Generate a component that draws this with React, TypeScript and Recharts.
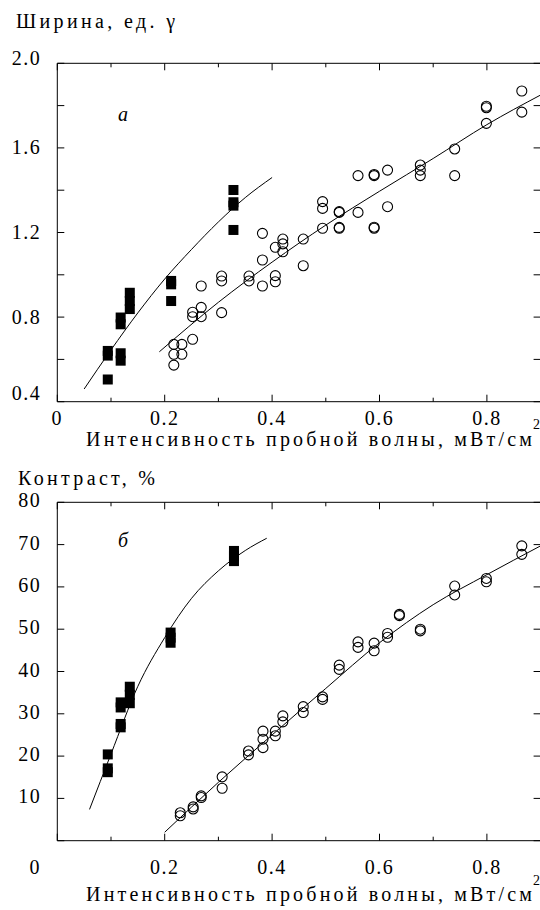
import React from 'react';
import { ScatterChart, Scatter, XAxis, YAxis } from 'recharts';

// shared x axis (intensity of the probe wave, mW/cm^2)
const xTicks = [0, 0.1, 0.2, 0.3, 0.4, 0.5, 0.6, 0.7, 0.8, 0.9];
const widthTicks = [0.4, 0.6, 0.8, 1.0, 1.2, 1.4, 1.6, 1.8, 2.0];
const contrastTicks = [0, 10, 20, 30, 40, 50, 60, 70, 80];

// panel "а": width, units of gamma
const widthSquares = [
  { x: 0.094, y: 0.505 }, { x: 0.094, y: 0.618 }, { x: 0.094, y: 0.64 },
  { x: 0.118, y: 0.594 }, { x: 0.118, y: 0.629 }, { x: 0.118, y: 0.766 }, { x: 0.118, y: 0.798 },
  { x: 0.135, y: 0.838 }, { x: 0.135, y: 0.876 }, { x: 0.135, y: 0.915 },
  { x: 0.212, y: 0.876 }, { x: 0.212, y: 0.955 }, { x: 0.212, y: 0.971 },
  { x: 0.328, y: 1.212 }, { x: 0.328, y: 1.327 }, { x: 0.328, y: 1.343 }, { x: 0.328, y: 1.401 },
];
const widthCircles = [
  { x: 0.217, y: 0.573 }, { x: 0.217, y: 0.624 }, { x: 0.217, y: 0.671 },
  { x: 0.232, y: 0.624 }, { x: 0.232, y: 0.671 },
  { x: 0.252, y: 0.695 }, { x: 0.252, y: 0.802 }, { x: 0.252, y: 0.823 },
  { x: 0.268, y: 0.802 }, { x: 0.268, y: 0.846 }, { x: 0.268, y: 0.947 },
  { x: 0.306, y: 0.821 }, { x: 0.306, y: 0.971 }, { x: 0.306, y: 0.994 },
  { x: 0.357, y: 0.971 }, { x: 0.357, y: 0.994 },
  { x: 0.382, y: 0.947 }, { x: 0.382, y: 1.07 }, { x: 0.382, y: 1.196 },
  { x: 0.406, y: 0.967 }, { x: 0.406, y: 0.996 }, { x: 0.406, y: 1.13 },
  { x: 0.42, y: 1.109 }, { x: 0.42, y: 1.146 }, { x: 0.42, y: 1.169 },
  { x: 0.458, y: 1.043 }, { x: 0.458, y: 1.169 },
  { x: 0.494, y: 1.22 }, { x: 0.494, y: 1.314 }, { x: 0.494, y: 1.346 },
  { x: 0.525, y: 1.22 }, { x: 0.525, y: 1.224 }, { x: 0.525, y: 1.295 }, { x: 0.525, y: 1.299 },
  { x: 0.56, y: 1.295 }, { x: 0.56, y: 1.469 },
  { x: 0.59, y: 1.22 }, { x: 0.59, y: 1.225 }, { x: 0.59, y: 1.469 }, { x: 0.59, y: 1.474 },
  { x: 0.615, y: 1.322 }, { x: 0.615, y: 1.495 },
  { x: 0.676, y: 1.469 }, { x: 0.676, y: 1.495 }, { x: 0.676, y: 1.519 },
  { x: 0.74, y: 1.469 }, { x: 0.74, y: 1.595 },
  { x: 0.799, y: 1.716 }, { x: 0.799, y: 1.79 }, { x: 0.799, y: 1.797 },
  { x: 0.865, y: 1.769 }, { x: 0.865, y: 1.869 },
];
const widthFitSquares = [
  { x: 0.05, y: 0.46 }, { x: 0.1, y: 0.645 }, { x: 0.15, y: 0.82 }, { x: 0.2, y: 0.98 },
  { x: 0.25, y: 1.12 }, { x: 0.3, y: 1.25 }, { x: 0.35, y: 1.365 }, { x: 0.4, y: 1.46 },
];
const widthFitCircles = [
  { x: 0.19, y: 0.636 }, { x: 0.3, y: 0.87 }, { x: 0.4, y: 1.06 }, { x: 0.5, y: 1.235 },
  { x: 0.6, y: 1.395 }, { x: 0.7, y: 1.55 }, { x: 0.8, y: 1.71 }, { x: 0.9, y: 1.85 },
];

// panel "б": contrast, %
const contrastSquares = [
  { x: 0.094, y: 16.2 }, { x: 0.094, y: 17.1 }, { x: 0.094, y: 20.4 },
  { x: 0.118, y: 26.8 }, { x: 0.118, y: 27.6 }, { x: 0.118, y: 31.5 }, { x: 0.118, y: 32.7 },
  { x: 0.135, y: 32.5 }, { x: 0.135, y: 34.5 }, { x: 0.135, y: 36.4 },
  { x: 0.211, y: 46.8 }, { x: 0.211, y: 48.0 }, { x: 0.211, y: 49.2 },
  { x: 0.329, y: 66.1 }, { x: 0.329, y: 67.3 }, { x: 0.329, y: 68.5 },
];
const contrastCircles = [
  { x: 0.229, y: 5.9 }, { x: 0.229, y: 6.6 },
  { x: 0.253, y: 7.5 }, { x: 0.253, y: 8.0 },
  { x: 0.268, y: 10.2 }, { x: 0.268, y: 10.6 },
  { x: 0.307, y: 12.4 }, { x: 0.307, y: 15.1 },
  { x: 0.356, y: 20.3 }, { x: 0.356, y: 21.2 },
  { x: 0.383, y: 22.0 }, { x: 0.383, y: 24.0 }, { x: 0.383, y: 25.9 },
  { x: 0.406, y: 24.8 }, { x: 0.406, y: 25.9 },
  { x: 0.42, y: 28.1 }, { x: 0.42, y: 29.5 },
  { x: 0.458, y: 30.3 }, { x: 0.458, y: 31.7 },
  { x: 0.494, y: 33.4 }, { x: 0.494, y: 34.0 },
  { x: 0.525, y: 40.5 }, { x: 0.525, y: 41.5 },
  { x: 0.56, y: 45.7 }, { x: 0.56, y: 47.0 },
  { x: 0.59, y: 44.9 }, { x: 0.59, y: 46.7 },
  { x: 0.615, y: 48.1 }, { x: 0.615, y: 49.0 },
  { x: 0.637, y: 53.2 }, { x: 0.637, y: 53.5 },
  { x: 0.676, y: 49.6 }, { x: 0.676, y: 50.0 },
  { x: 0.74, y: 58.1 }, { x: 0.74, y: 60.2 },
  { x: 0.799, y: 61.2 }, { x: 0.799, y: 62.0 },
  { x: 0.865, y: 67.7 }, { x: 0.865, y: 69.7 },
];
const contrastFitSquares = [
  { x: 0.06, y: 7.4 }, { x: 0.1, y: 20.5 }, { x: 0.15, y: 36.5 }, { x: 0.2, y: 48 },
  { x: 0.25, y: 57.3 }, { x: 0.3, y: 63.8 }, { x: 0.35, y: 68.6 }, { x: 0.39, y: 71.5 },
];
const contrastFitCircles = [
  { x: 0.2, y: 2 }, { x: 0.3, y: 13.8 }, { x: 0.4, y: 25.0 }, { x: 0.5, y: 36.0 },
  { x: 0.6, y: 46.8 }, { x: 0.7, y: 55.8 }, { x: 0.8, y: 62.9 }, { x: 0.9, y: 69.7 },
];

const FONT = 'Liberation Serif, DejaVu Serif, serif';
const numStyle = { fontSize: 20, letterSpacing: 1.5, fill: '#000' };

const Square = (p: any) => <rect x={p.cx - 5} y={p.cy - 5} width={10} height={10} fill="#000" />;
const Ring = (p: any) => <circle cx={p.cx} cy={p.cy} r={5} fill="none" stroke="#000" strokeWidth={1.1} />;
const NoDot = () => <g />;

const isMajorX = (v: number) => Math.round(v * 10) % 2 === 0;

// plot frame position inside each chart
const CHART_W = 560;
const PLOT_LEFT = 57.3;
const PLOT_RIGHT = 540.6;

const makeBottomTick = (axisY: number, zeroShift: number, labelDy: number) => (p: any) => {
  const v = p.payload.value;
  const major = isMajorX(v);
  return (
    <g>
      <line x1={p.x} x2={p.x} y1={axisY} y2={axisY - (major ? 7 : 4)} stroke="#000" />
      {major && (
        <text x={p.x + (v === 0 ? zeroShift : 0)} y={axisY + labelDy} textAnchor="middle" fontFamily={FONT} style={numStyle}>
          {v === 0 ? '0' : v.toFixed(1)}
        </text>
      )}
    </g>
  );
};

const makeTopTick = (axisY: number) => (p: any) => {
  const major = isMajorX(p.payload.value);
  return <line x1={p.x} x2={p.x} y1={axisY} y2={axisY + (major ? 7 : 4)} stroke="#000" />;
};

const makeLeftTick = (label: (v: number) => string | null, dy: (v: number) => number) => (p: any) => {
  const v = p.payload.value;
  const text = label(v);
  return (
    <g>
      <line x1={PLOT_LEFT} x2={PLOT_LEFT + 7} y1={p.y} y2={p.y} stroke="#000" />
      {text && (
        <text x={PLOT_LEFT - 16} y={p.y + 6.5 + dy(v)} textAnchor="end" fontFamily={FONT} style={numStyle}>
          {text}
        </text>
      )}
    </g>
  );
};

const RightTick = (p: any) => <line x1={PLOT_RIGHT} x2={PLOT_RIGHT - 7} y1={p.y} y2={p.y} stroke="#000" />;

interface PanelProps {
  top: number;
  height: number;
  plotTop: number;
  plotBottom: number;
  yDomain: [number, number];
  yTicks: number[];
  yLabel: (v: number) => string | null;
  yLabelDy: (v: number) => number;
  zeroShift: number;
  xLabelDy: number;
  squares: { x: number; y: number }[];
  circles: { x: number; y: number }[];
  fitSquares: { x: number; y: number }[];
  fitCircles: { x: number; y: number }[];
}

const Panel: React.FC<PanelProps> = (props) => {
  const axisSize = 1;
  return (
    <div style={{ position: 'absolute', left: 0, top: props.top }}>
      <ScatterChart
        width={CHART_W}
        height={props.height}
        margin={{
          top: props.plotTop - axisSize,
          left: PLOT_LEFT - axisSize,
          right: CHART_W - PLOT_RIGHT - axisSize,
          bottom: props.height - props.plotBottom - axisSize,
        }}
      >
        <XAxis
          type="number"
          dataKey="x"
          domain={[0, 0.9]}
          ticks={xTicks}
          interval={0}
          allowDataOverflow
          height={axisSize}
          tickLine={false}
          axisLine={{ stroke: '#000' }}
          tick={makeBottomTick(props.plotBottom, props.zeroShift, props.xLabelDy)}
        />
        <XAxis
          xAxisId="top"
          orientation="top"
          type="number"
          dataKey="x"
          domain={[0, 0.9]}
          ticks={xTicks}
          interval={0}
          allowDataOverflow
          height={axisSize}
          tickLine={false}
          axisLine={{ stroke: '#000' }}
          tick={makeTopTick(props.plotTop)}
        />
        <YAxis
          type="number"
          dataKey="y"
          domain={props.yDomain}
          ticks={props.yTicks}
          interval={0}
          allowDataOverflow
          width={axisSize}
          tickLine={false}
          axisLine={{ stroke: '#000' }}
          tick={makeLeftTick(props.yLabel, props.yLabelDy)}
        />
        <YAxis
          yAxisId="right"
          orientation="right"
          type="number"
          dataKey="y"
          domain={props.yDomain}
          ticks={props.yTicks}
          interval={0}
          allowDataOverflow
          width={axisSize}
          tickLine={false}
          axisLine={{ stroke: '#000' }}
          tick={RightTick}
        />
        {/* hidden series so the top and right frame axes are laid out */}
        <Scatter xAxisId="top" yAxisId="right" data={props.fitCircles} shape={NoDot} isAnimationActive={false} />
        <Scatter data={props.fitSquares} shape={NoDot} line={{ stroke: '#000', strokeWidth: 1 }} lineJointType="monotoneX" isAnimationActive={false} />
        <Scatter data={props.fitCircles} shape={NoDot} line={{ stroke: '#000', strokeWidth: 1 }} lineJointType="monotoneX" isAnimationActive={false} />
        <Scatter data={props.squares} shape={Square} isAnimationActive={false} />
        <Scatter data={props.circles} shape={Ring} isAnimationActive={false} />
      </ScatterChart>
    </div>
  );
};

const textStyle = { fontSize: 20, fill: '#000' };
const xTitle = 'Интенсивность пробной волны, мВт/см';

export default function App() {
  return (
    <div style={{ position: 'absolute', left: 0, top: 0, width: 540, height: 910, overflow: 'hidden', background: '#fff' }}>
      <Panel
        top={0}
        height={470}
        plotTop={63.3}
        plotBottom={401.7}
        yDomain={[0.4, 2.0]}
        yTicks={widthTicks}
        yLabel={(v) => (Math.round(v * 10) % 4 === 0 ? v.toFixed(1) : null)}
        yLabelDy={(v) => (v < 0.5 ? -8 : v > 1.9 ? -5 : 0)}
        zeroShift={0}
        xLabelDy={23}
        squares={widthSquares}
        circles={widthCircles}
        fitSquares={widthFitSquares}
        fitCircles={widthFitCircles}
      />
      <Panel
        top={460}
        height={450}
        plotTop={42.3}
        plotBottom={380.7}
        yDomain={[0, 80]}
        yTicks={contrastTicks}
        yLabel={(v) => (v > 0 ? String(v) : null)}
        yLabelDy={() => -1.5}
        zeroShift={-22}
        xLabelDy={33}
        squares={contrastSquares}
        circles={contrastCircles}
        fitSquares={contrastFitSquares}
        fitCircles={contrastFitCircles}
      />
      <svg width={540} height={910} fontFamily={FONT} style={{ position: 'absolute', left: 0, top: 0, pointerEvents: 'none' }}>
        <text x={16} y={28} textLength={159} lengthAdjust="spacing" style={textStyle}>Ширина, ед. γ</text>
        <text x={118} y={121} style={{ ...textStyle, fontStyle: 'italic' }}>а</text>
        <text x={86} y={446} textLength={446} lengthAdjust="spacing" style={textStyle}>{xTitle}</text>
        <text x={533} y={429} style={{ ...textStyle, fontSize: 14 }}>2</text>
        <text x={18} y={485} textLength={137} lengthAdjust="spacing" style={textStyle}>Контраст, %</text>
        <text x={118} y={547} style={{ ...textStyle, fontStyle: 'italic' }}>б</text>
        <text x={86} y={901} textLength={446} lengthAdjust="spacing" style={textStyle}>{xTitle}</text>
        <text x={533} y={885} style={{ ...textStyle, fontSize: 14 }}>2</text>
      </svg>
    </div>
  );
}
